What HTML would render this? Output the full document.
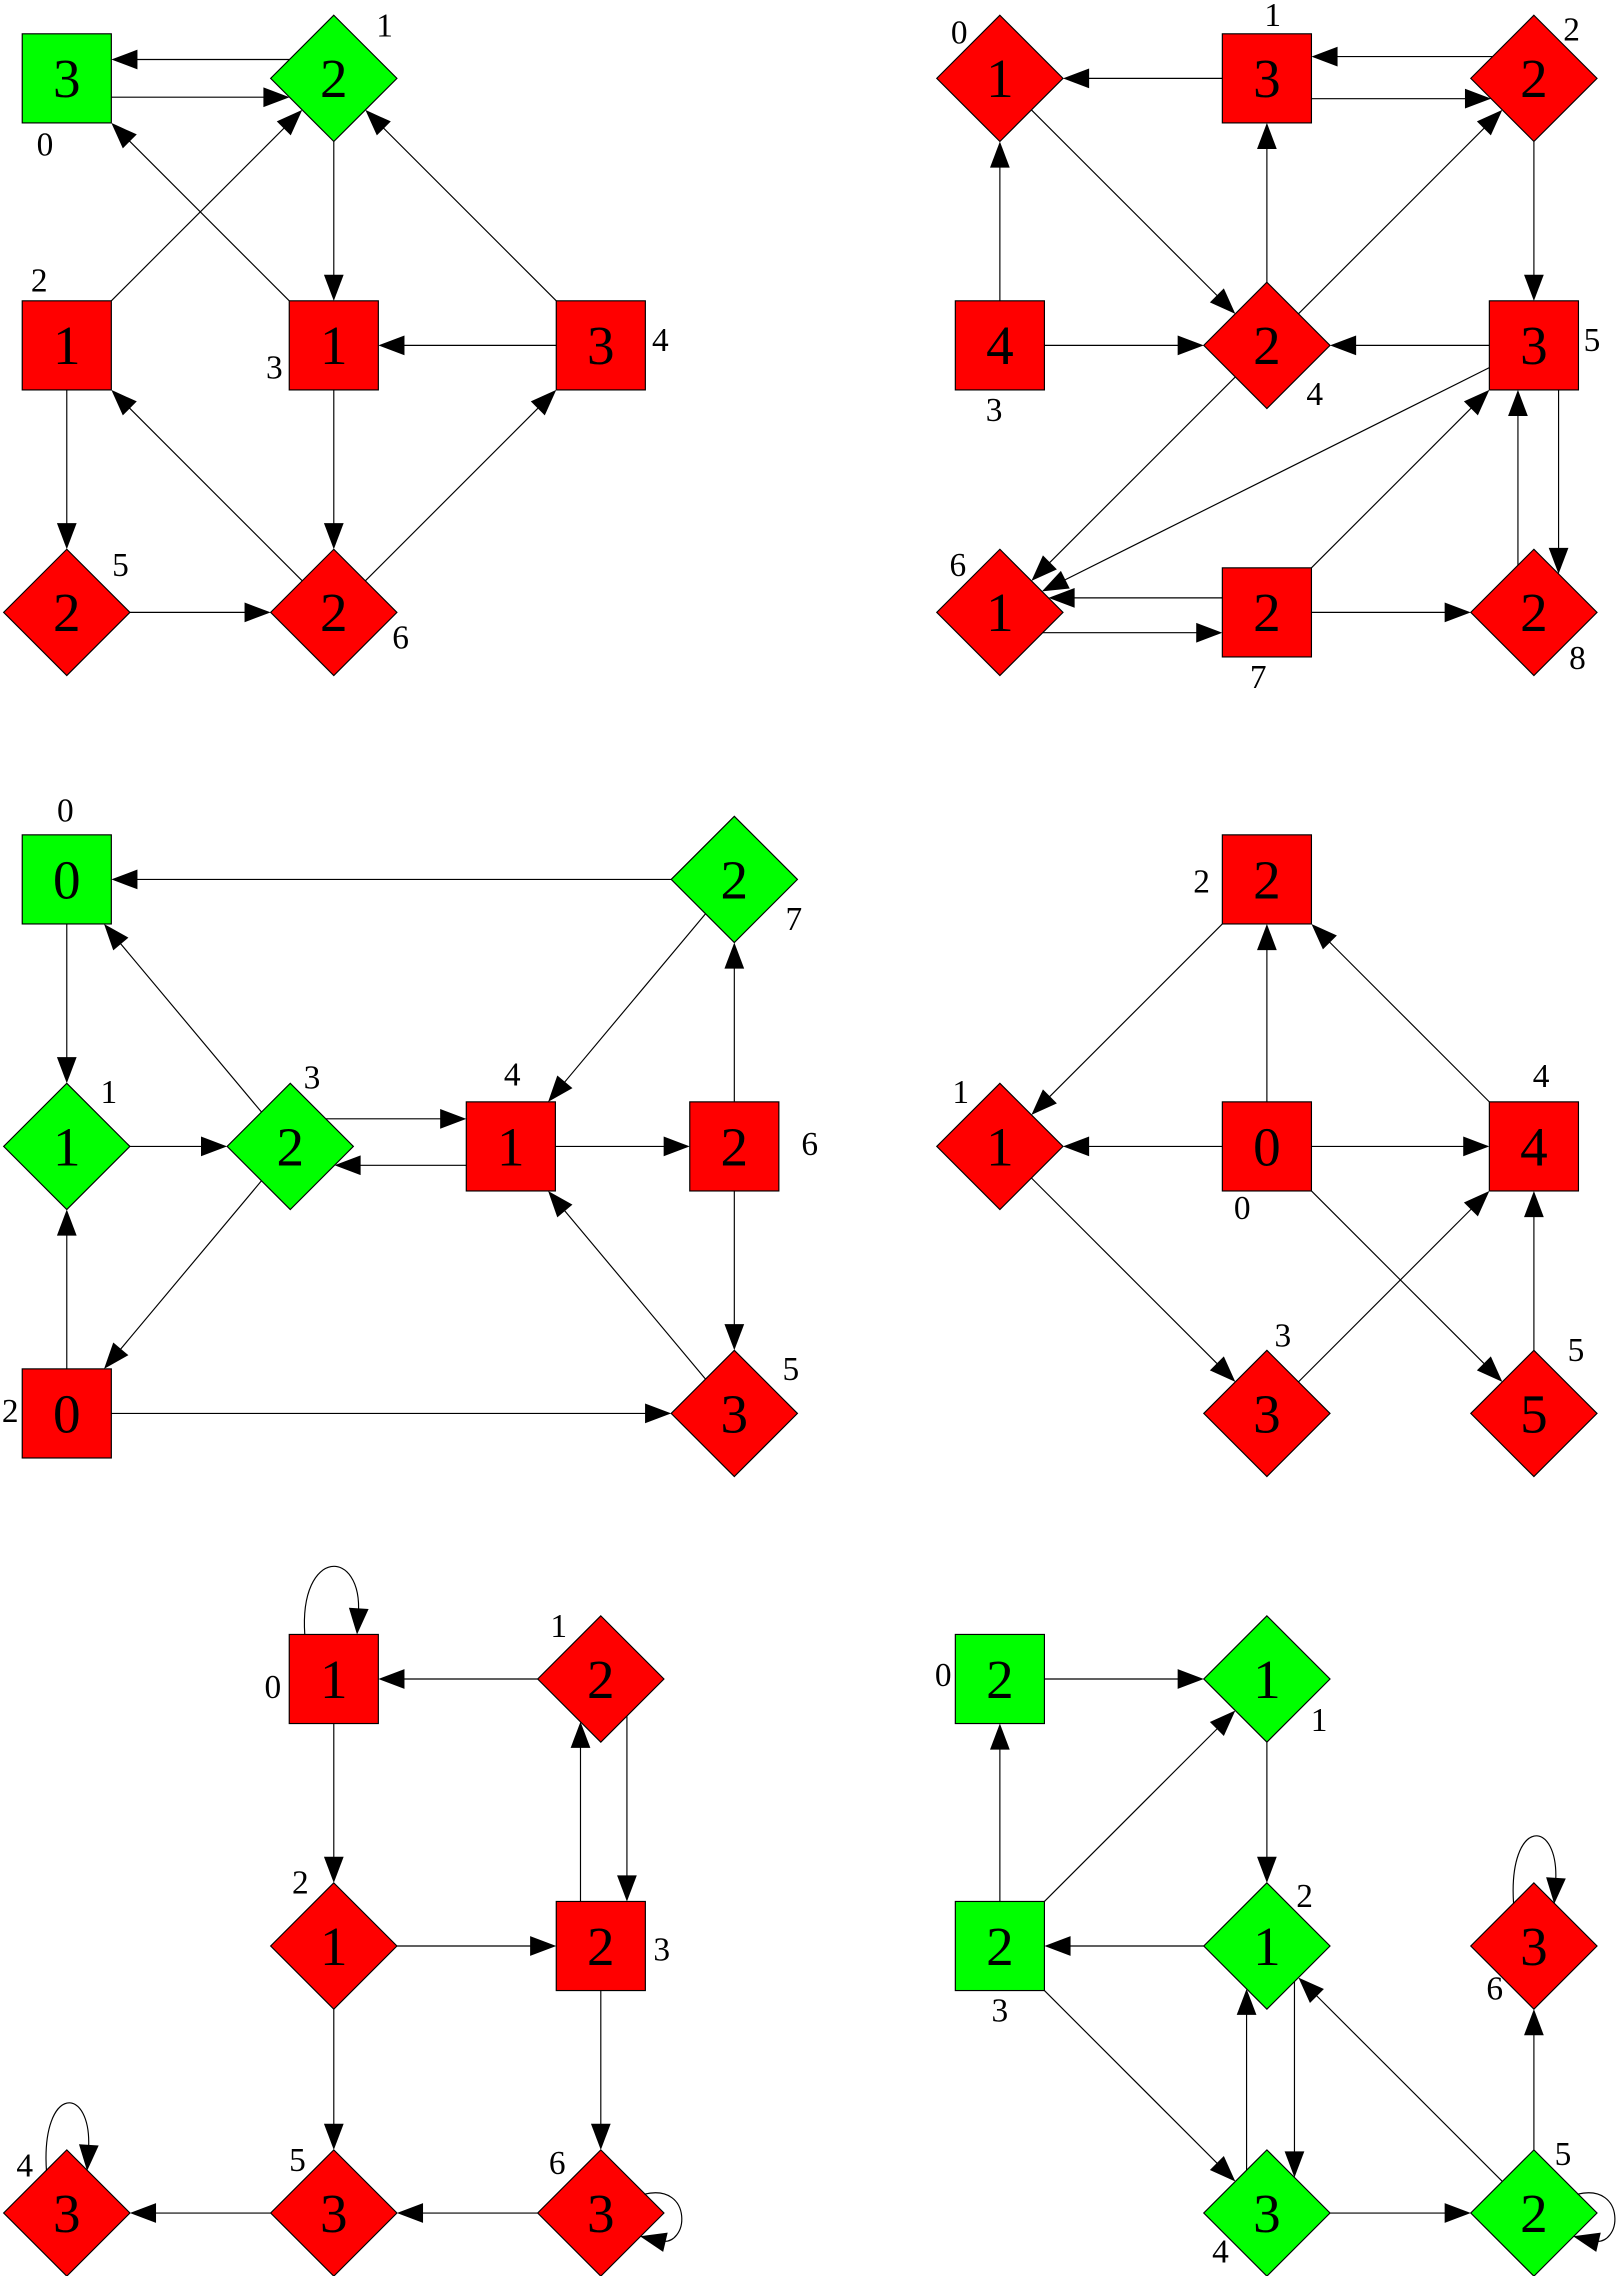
<!DOCTYPE html>
<html><head><meta charset="utf-8"><style>
html,body{margin:0;padding:0;background:#fff;}
svg{display:block;}
text{font-family:"Liberation Serif",serif;}
</style></head>
<body>
<svg id="c" width="1621" height="2276" viewBox="0 0 1117 1568.4" xmlns="http://www.w3.org/2000/svg"></svg>
<script>
// Graph data: [id, shape(s=square,d=diamond), color(r/g), value, cx, cy, labelX, labelY]
const g1Nodes=[[0,'s','g',3,46,54,31,107],[1,'d','g',2,230,54,265,25],[2,'s','r',1,46,238,27,201],[3,'s','r',1,230,238,189,261],[4,'s','r',3,414,238,455,242],[5,'d','r',2,46,422,83,397],[6,'d','r',2,230,422,276,447]];
const g1Edges=[[1,0,13],[0,1,13],[1,3,0],[3,0,0],[2,1,0],[4,1,0],[4,3,0],[2,5,0],[5,6,0],[3,6,0],[6,2,0],[6,4,0]];
const g2Nodes=[[0,'d','r',1,689,54,661,30],[1,'s','r',3,873,54,877,18],[2,'d','r',2,1057,54,1083,28],[3,'s','r',4,689,238,685,290],[4,'d','r',2,873,238,906,279],[5,'s','r',3,1057,238,1097,242],[6,'d','r',1,689,422,660,397],[7,'s','r',2,873,422,867,474],[8,'d','r',2,1057,422,1087,461]];
const g2Edges=[[1,0,0],[1,2,14],[2,1,15],[0,4,0],[4,1,0],[4,2,0],[3,0,0],[3,4,0],[2,5,0],[5,4,0],[4,6,0],[5,6,0],[7,6,10],[6,7,14],[7,5,0],[7,8,0],[8,5,-11],[5,8,-17]];
const g3Nodes=[[0,'s','g',0,46,606,45,566],[1,'d','g',1,46,790,75,760],[2,'s','r',0,46,974,7,980],[3,'d','g',2,200,790,215,750],[4,'s','r',1,352,790,353,748],[5,'d','r',3,506,974,545,951],[6,'s','r',2,506,790,558,796],[7,'d','g',2,506,606,547,641]];
const g3Edges=[[7,0,0],[0,1,0],[2,1,0],[1,3,0],[3,0,0],[3,4,-19],[4,3,-13],[3,2,0],[7,4,0],[4,6,0],[6,7,0],[6,5,0],[5,4,0],[2,5,0]];
const g4Nodes=[[0,'s','r',0,873,790,856,840],[1,'d','r',1,689,790,662,760],[2,'s','r',2,873,606,828,615],[3,'d','r',3,873,974,884,928],[4,'s','r',4,1057,790,1062,749],[5,'d','r',5,1057,974,1086,938]];
const g4Edges=[[0,2,0],[0,1,0],[0,4,0],[0,5,0],[2,1,0],[4,2,0],[1,3,0],[3,4,0],[5,4,0]];
const g5Nodes=[[0,'s','r',1,230,1157,188,1170],[1,'d','r',2,414,1157,385,1128],[2,'d','r',1,230,1341,207,1305],[3,'s','r',2,414,1341,456,1351],[4,'d','r',3,46,1525,17,1500],[5,'d','r',3,230,1525,205,1496],[6,'d','r',3,414,1525,384,1498]];
const g5Edges=[[1,0,0],[0,2,0],[2,3,0],[3,1,-14],[1,3,-18],[2,5,0],[3,6,0],[6,5,0],[5,4,0]];
const g5Loops=[[0,'top'],[4,'top'],[6,'right']];
const g6Nodes=[[0,'s','g',2,689,1157,650,1162],[1,'d','g',1,873,1157,909,1193],[2,'d','g',1,873,1341,899,1314],[3,'s','g',2,689,1341,689,1393],[4,'d','g',3,873,1525,841,1559],[5,'d','g',2,1057,1525,1077,1492],[6,'d','r',3,1057,1341,1030,1378]];
const g6Edges=[[0,1,0],[3,0,0],[3,1,0],[1,2,0],[2,3,0],[3,4,0],[4,2,-14],[2,4,-19],[4,5,0],[5,2,0],[5,6,0]];
const g6Loops=[[6,'top'],[5,'right']];

const NS='http://www.w3.org/2000/svg';
const svg=document.getElementById('c');
function mk(t,a,p){const e=document.createElementNS(NS,t);for(const k in a)e.setAttribute(k,a[k]);(p||svg).appendChild(e);return e;}
const SQ=30.7, DI=43.5;
function inside(n,x,y){const dx=Math.abs(x-n[4]),dy=Math.abs(y-n[5]);return n[1]==='s'?Math.max(dx,dy)<=SQ:(dx+dy)<=DI;}
function exitPt(n,px,py,ux,uy){let lo=0,hi=200;for(let i=0;i<40;i++){const m=(lo+hi)/2;if(inside(n,px+ux*m,py+uy*m))lo=m;else hi=m;}return [px+ux*hi,py+uy*hi];}
function arrow(g,x,y,ux,uy){const L=18,W=6.8;const bx=x-ux*L,by=y-uy*L;
  const p=mk('polygon',{points:`${x},${y} ${bx-uy*W},${by+ux*W} ${bx+uy*W},${by-ux*W}`,fill:'#000'},g);
  
  }
function drawGraph(name,nodes,edges,loops){
  const g=mk('g',{});
  
  
  const byId={};nodes.forEach(n=>byId[n[0]]=n);
  nodes.forEach(n=>{
    const col=n[2]==='g'?'#00ff00':'#ff0000';
    const ng=mk('g',{},g);
    
    
    if(n[1]==='s') mk('rect',{x:n[4]-SQ,y:n[5]-SQ,width:2*SQ,height:2*SQ,fill:col,stroke:'#000','stroke-width':0.8},ng);
    else mk('polygon',{points:`${n[4]},${n[5]-DI} ${n[4]+DI},${n[5]} ${n[4]},${n[5]+DI} ${n[4]-DI},${n[5]}`,fill:col,stroke:'#000','stroke-width':0.8},ng);
    const t=mk('text',{x:n[4],y:n[5]+13,'font-size':38,'text-anchor':'middle'},ng);t.textContent=n[3];
    
    
    const l=mk('text',{x:n[6],y:n[7],'font-size':23,'text-anchor':'middle'},g);l.textContent=n[0];
    
    
  });
  edges.forEach(e=>{
    const a=byId[e[0]],b=byId[e[1]],off=e[2];
    let dx=b[4]-a[4],dy=b[5]-a[5];const len=Math.hypot(dx,dy);const ux=dx/len,uy=dy/len;
    const px=-uy*off,py=ux*off;
    const s=exitPt(a,a[4]+px,a[5]+py,ux,uy);
    const t=exitPt(b,b[4]+px,b[5]+py,-ux,-uy);
    const eg=mk('g',{},g);
    
    
    mk('line',{x1:s[0],y1:s[1],x2:t[0]-ux*16,y2:t[1]-uy*16,stroke:'#000','stroke-width':0.8},eg);
    arrow(eg,t[0],t[1],ux,uy);
  });
  (loops||[]).forEach(lp=>{
    const n=byId[lp[0]];const cx=n[4],cy=n[5];
    let s,e,c1,c2;
    if(lp[1]==='top'){
      const top=n[1]==='s'?cy-SQ:cy-DI;
      if(n[1]==='s'){s=[cx-20,top];e=[cx+16,top];}else{s=[cx-14,cy-29];e=[cx+14,cy-29];}
      c1=[s[0]-4,s[1]-60];c2=[e[0]+4,e[1]-60];
    } else {
      s=[cx+30,cy-13];e=[cx+27,cy+16];
      c1=[s[0]+34,s[1]-8];c2=[e[0]+34,e[1]+8];
    }
    const tx=e[0]-c2[0],ty=e[1]-c2[1],tl=Math.hypot(tx,ty);const ux=tx/tl,uy=ty/tl;
    const eg=mk('g',{},g);
    
    
    mk('path',{d:`M${s[0]},${s[1]} C${c1[0]},${c1[1]} ${c2[0]},${c2[1]} ${e[0]-ux*14},${e[1]-uy*14}`,fill:'none',stroke:'#000','stroke-width':0.8},eg);
    arrow(eg,e[0],e[1],ux,uy);
  });
}
drawGraph('graph-1',g1Nodes,g1Edges);
drawGraph('graph-2',g2Nodes,g2Edges);
drawGraph('graph-3',g3Nodes,g3Edges);
drawGraph('graph-4',g4Nodes,g4Edges);
drawGraph('graph-5',g5Nodes,g5Edges,g5Loops);
drawGraph('graph-6',g6Nodes,g6Edges,g6Loops);
</script>
</body></html>
